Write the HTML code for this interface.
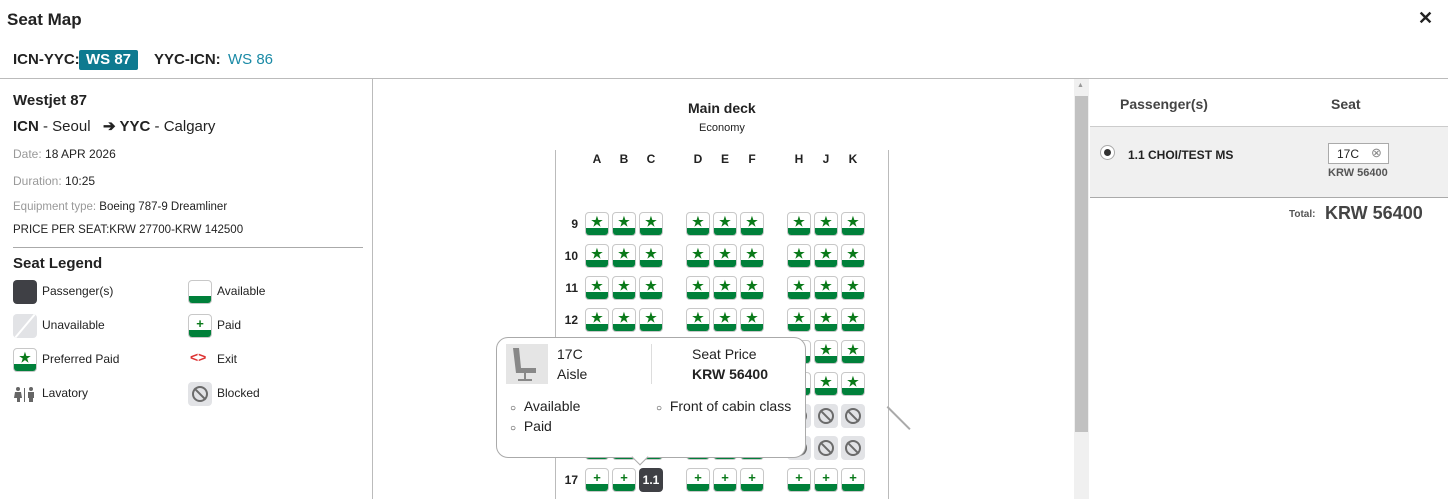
<!DOCTYPE html>
<html><head><style>
*{box-sizing:border-box;margin:0;padding:0}
body{width:1448px;height:499px;overflow:hidden;background:#fff;font-family:"Liberation Sans",sans-serif;color:#222;position:relative}
.a{position:absolute;white-space:nowrap}
.s{position:absolute;width:24px;height:24px;border:1px solid #c8c8c8;border-radius:4px;background:#fff;overflow:hidden}
.s:after{content:"";position:absolute;left:-1px;right:-1px;bottom:-1px;height:8px;background:#00803a}
.s i{position:absolute;left:0;right:0;top:2px;text-align:center;font-style:normal;color:#0a7a1a;font-size:13px;font-weight:bold;line-height:13px}
.b{position:absolute;width:24px;height:24px;border-radius:4px;background:#e2e3e6}
.b:before{content:"";position:absolute;left:4px;top:4px;width:16px;height:16px;border:2px solid #6b6b6b;border-radius:50%;box-sizing:border-box}
.b:after{content:"";position:absolute;left:11px;top:4px;width:2px;height:16px;background:#6b6b6b;transform:rotate(-45deg)}
.col{position:absolute;top:152px;font-size:12px;font-weight:bold;width:24px;text-align:center}
.rn{position:absolute;left:558px;width:20px;text-align:right;font-size:12px;font-weight:bold}
.g{color:#999}
.lt{font-size:12px}
</style></head><body>
<div class="a" style="left:7px;top:10px;font-size:17px;font-weight:bold">Seat Map</div>
<div class="a" style="left:1418px;top:8px;font-size:18px;font-weight:bold">✕</div>
<div class="a" style="left:13px;top:51px;font-size:15px;font-weight:bold">ICN-YYC:</div>
<div class="a" style="left:79px;top:50px;width:59px;height:20px;background:#0e7a90;border-radius:2px;color:#fff;font-size:15px;font-weight:bold;text-align:center;line-height:20px">WS 87</div>
<div class="a" style="left:154px;top:51px;font-size:15px;font-weight:bold">YYC-ICN:</div>
<div class="a" style="left:228px;top:51px;font-size:15px;color:#1a8aa6">WS 86</div>
<div class="a" style="left:0;top:78px;width:1448px;height:1px;background:#bbb"></div>
<div class="a" style="left:372px;top:78px;width:1px;height:421px;background:#bbb"></div>
<!-- left panel -->
<div class="a" style="left:13px;top:92px;font-size:15px;font-weight:bold">Westjet 87</div>
<div class="a" style="left:13px;top:117px;font-size:15px"><b>ICN</b> - Seoul &nbsp; <b>➔ YYC</b> - Calgary</div>
<div class="a" style="left:13px;top:147px;font-size:12px"><span class="g">Date:</span> 18 APR 2026</div>
<div class="a" style="left:13px;top:174px;font-size:12px"><span class="g">Duration:</span> 10:25</div>
<div class="a" style="left:13px;top:201px;font-size:11.5px"><span class="g">Equipment type:</span> Boeing 787-9 Dreamliner</div>
<div class="a" style="left:13px;top:224px;font-size:11.5px">PRICE PER SEAT:KRW 27700-KRW 142500</div>
<div class="a" style="left:13px;top:247px;width:350px;height:1px;background:#aaa"></div>
<div class="a" style="left:13px;top:255px;font-size:15px;font-weight:bold">Seat Legend</div>
<div class="a" style="left:13px;top:280px;width:24px;height:24px;border-radius:4px;background:#3f4045"></div>
<div class="a lt" style="left:42px;top:284px">Passenger(s)</div>
<div class="s" style="left:188px;top:280px"></div>
<div class="a lt" style="left:217px;top:284px">Available</div>
<div class="a" style="left:13px;top:314px;width:24px;height:24px;border-radius:4px;background:#e2e3e6;overflow:hidden"><div style="position:absolute;left:11px;top:-3px;width:2px;height:30px;background:#fff;transform:rotate(40deg)"></div></div>
<div class="a lt" style="left:42px;top:318px">Unavailable</div>
<div class="s" style="left:188px;top:314px"><i>+</i></div>
<div class="a lt" style="left:217px;top:318px">Paid</div>
<div class="s" style="left:13px;top:348px"><i>★</i></div>
<div class="a lt" style="left:42px;top:352px">Preferred Paid</div>
<div class="a" style="left:190px;top:349px;font-size:14px;font-weight:bold;color:#d33">&lt;&gt;</div>
<div class="a lt" style="left:217px;top:352px">Exit</div>
<svg class="a" style="left:13px;top:386px" width="24" height="16"><circle cx="5" cy="3" r="2" fill="#666"/><circle cx="18" cy="3" r="2" fill="#666"/><path d="M2 6h6l1 6H7v4H4v-4H1z" fill="#666"/><path d="M15 6h6v6h-1v4h-4v-4h-1z" fill="#666"/><rect x="11" y="2" width="1" height="14" fill="#666"/></svg>
<div class="a lt" style="left:42px;top:386px">Lavatory</div>
<div class="b" style="left:188px;top:382px"></div>
<div class="a lt" style="left:217px;top:386px">Blocked</div>
<!-- middle -->
<div class="a" style="left:688px;top:100px;font-size:14px;font-weight:bold">Main deck</div>
<div class="a" style="left:699px;top:122px;font-size:11px">Economy</div>
<div class="a" style="left:555px;top:150px;width:1px;height:349px;background:#bbb"></div>
<div class="a" style="left:888px;top:150px;width:1px;height:349px;background:#bbb"></div>
<div class="a" style="left:888px;top:406px;width:32px;height:2px;background:#aaa;transform:rotate(45deg);transform-origin:0 0"></div>
<div class="col" style="left:585px">A</div><div class="col" style="left:612px">B</div><div class="col" style="left:639px">C</div>
<div class="col" style="left:686px">D</div><div class="col" style="left:713px">E</div><div class="col" style="left:740px">F</div>
<div class="col" style="left:787px">H</div><div class="col" style="left:814px">J</div><div class="col" style="left:841px">K</div>
<div id="grid"></div>
<script>
var xs=[585,612,639,686,713,740,787,814,841],h='';
var rows=[9,10,11,12,13,14,15,16,17];
rows.forEach(function(r,i){var y=212+i*32;
h+='<div class="rn" style="top:'+(y+5)+'px">'+r+'</div>';
xs.forEach(function(x,j){
 if(r==17&&j==2){h+='<div class="a" style="left:'+x+'px;top:'+y+'px;width:24px;height:24px;border-radius:4px;background:#3f4045;color:#fff;font-size:12px;font-weight:bold;text-align:center;line-height:24px">1.1</div>';return;}
 if((r==15||r==16)&&j>=6){h+='<div class="b" style="left:'+x+'px;top:'+y+'px"></div>';return;}
 var g=(r>=15)?'+':'★';
 h+='<div class="s" style="left:'+x+'px;top:'+y+'px"><i>'+g+'</i></div>';
});});
document.getElementById('grid').innerHTML=h;
</script>
<!-- tooltip -->
<div class="a" style="left:496px;top:337px;width:310px;height:121px;background:#fff;border:1px solid #aaa;border-radius:12px"></div>
<div class="a" style="left:634px;top:451px;width:12px;height:12px;background:#fff;border-right:1px solid #aaa;border-bottom:1px solid #aaa;transform:rotate(45deg)"></div>
<div class="a" style="left:506px;top:344px;width:42px;height:40px;background:#e5e5e5"><svg width="42" height="40"><path d="M7 4h6l2 20h15v5H10z" fill="#888"/><rect x="18" y="29" width="2" height="6" fill="#888"/><rect x="12" y="35" width="14" height="2" fill="#888"/></svg></div>
<div class="a" style="left:557px;top:346px;font-size:14px">17C</div>
<div class="a" style="left:557px;top:366px;font-size:14px">Aisle</div>
<div class="a" style="left:651px;top:344px;width:1px;height:40px;background:#ddd"></div>
<div class="a" style="left:692px;top:346px;font-size:14px">Seat Price</div>
<div class="a" style="left:692px;top:366px;font-size:14px;font-weight:bold">KRW 56400</div>
<div class="a" style="left:510px;top:398px;font-size:14px"><span style="font-size:10px">○</span> &nbsp;Available</div>
<div class="a" style="left:510px;top:418px;font-size:14px"><span style="font-size:10px">○</span> &nbsp;Paid</div>
<div class="a" style="left:656px;top:398px;font-size:14px"><span style="font-size:10px">○</span> &nbsp;Front of cabin class</div>
<!-- scrollbar -->
<div class="a" style="left:1074px;top:79px;width:15px;height:420px;background:#f0f0f0"></div>
<div class="a" style="left:1075px;top:96px;width:13px;height:336px;background:#c1c1c1"></div>
<div class="a" style="left:1077px;top:82px;font-size:7px;color:#999">▲</div>
<!-- right -->
<div class="a" style="left:1120px;top:96px;font-size:14px;font-weight:bold;color:#444">Passenger(s)</div>
<div class="a" style="left:1331px;top:96px;font-size:14px;font-weight:bold;color:#444">Seat</div>
<div class="a" style="left:1090px;top:126px;width:358px;height:72px;background:#f0f0f0;border-top:1px solid #ccc;border-bottom:1px solid #aaa"></div>
<div class="a" style="left:1100px;top:145px;width:15px;height:15px;border-radius:50%;background:#fff;border:1px solid #aaa"><div style="position:absolute;left:3px;top:3px;width:7px;height:7px;border-radius:50%;background:#333"></div></div>
<div class="a" style="left:1128px;top:148px;font-size:12px;font-weight:bold">1.1 CHOI/TEST MS</div>
<div class="a" style="left:1328px;top:143px;width:61px;height:21px;background:#fff;border:1px solid #aaa"><span style="position:absolute;left:8px;top:3px;font-size:12px">17C</span><span style="position:absolute;left:42px;top:1px;font-size:13px;color:#888">⊗</span></div>
<div class="a" style="left:1328px;top:167px;font-size:11px;font-weight:bold;color:#555">KRW 56400</div>
<div class="a" style="left:1289px;top:209px;font-size:10px;font-weight:bold;color:#555">Total:</div>
<div class="a" style="left:1325px;top:203px;font-size:18px;font-weight:bold;color:#444">KRW 56400</div>
</body></html>
